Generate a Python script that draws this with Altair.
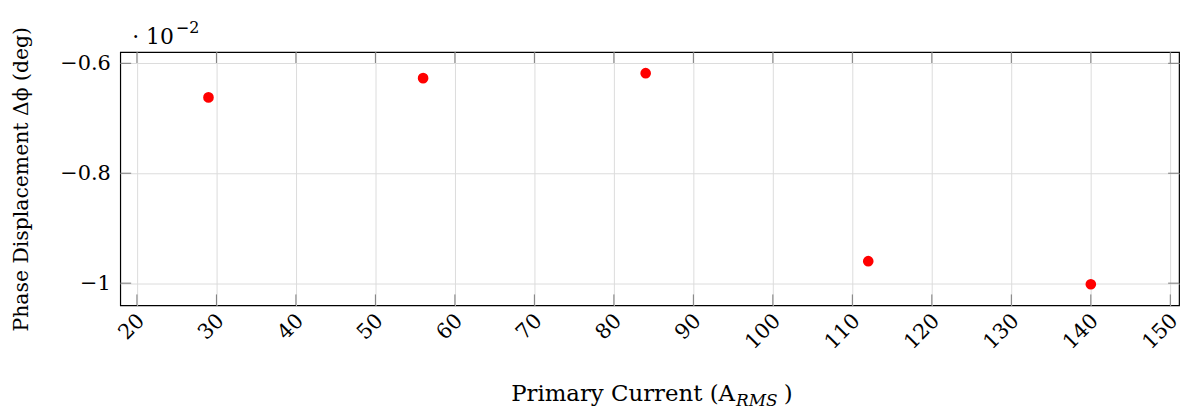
import altair as alt
import pandas as pd

current = [29, 56, 84, 112, 140]
phase = [-0.662, -0.627, -0.618, -0.960, -1.002]
x_ticks = [20, 30, 40, 50, 60, 70, 80, 90, 100, 110, 120, 130, 140, 150]
y_ticks = [-1.0, -0.8, -0.6]

df = pd.DataFrame({"current": current, "phase": phase})
xt = pd.DataFrame({"v": x_ticks})
yt = pd.DataFrame({"v": y_ticks})

FONT = "DejaVu Serif"
W, H = 1066, 255
TL = 11
TICK_COLOR = "#7a7a7a"

xscale = alt.Scale(domain=[17.9, 151.1], nice=False, zero=False)
yscale = alt.Scale(domain=[-1.0404, -0.5796], nice=False, zero=False)

xaxis = alt.Axis(values=x_ticks, labelAngle=-45, labelAlign="right",
                 labelBaseline="middle", labelPadding=12, labelOffset=4,
                 labelFontSize=21, labelFont=FONT, labelColor="black", ticks=False,
                 domain=False, gridColor="#dcdcdc", grid=True, title=None)
yaxis = alt.Axis(values=y_ticks, format="~g", labelFontSize=21,
                 labelFont=FONT, labelColor="black", ticks=False,
                 labelPadding=10, domain=False, gridColor="#dcdcdc",
                 grid=True, title="Phase Displacement Δϕ (deg)",
                 titleFont=FONT, titleFontSize=20.5, titleFontWeight="normal",
                 titleColor="black", titleX=-99, titleY=H / 2,
                 titleAngle=-90, titleAlign="center", titleBaseline="middle")

points = alt.Chart(df).mark_circle(color="#ff0000", opacity=1, size=115).encode(
    x=alt.X("current:Q", scale=xscale, axis=xaxis),
    y=alt.Y("phase:Q", scale=yscale, axis=yaxis),
)

xtick_bottom = alt.Chart(xt).mark_rule(color=TICK_COLOR, strokeWidth=1).encode(
    x=alt.X("v:Q", scale=xscale, axis=xaxis), y=alt.value(H), y2=alt.value(H - TL))
xtick_top = alt.Chart(xt).mark_rule(color=TICK_COLOR, strokeWidth=1).encode(
    x=alt.X("v:Q", scale=xscale, axis=xaxis), y=alt.value(0), y2=alt.value(TL))
ytick_left = alt.Chart(yt).mark_rule(color=TICK_COLOR, strokeWidth=1).encode(
    y=alt.Y("v:Q", scale=yscale, axis=yaxis), x=alt.value(0), x2=alt.value(TL))
ytick_right = alt.Chart(yt).mark_rule(color=TICK_COLOR, strokeWidth=1).encode(
    y=alt.Y("v:Q", scale=yscale, axis=yaxis), x=alt.value(W), x2=alt.value(W - TL))

def txt(s, x, y, size=23, align="left", style="normal"):
    return alt.Chart(pd.DataFrame({"t": [s]})).mark_text(
        text=s, font=FONT, fontSize=size, align=align, baseline="alphabetic",
        color="black", fontStyle=style
    ).encode(x=alt.value(x), y=alt.value(y))

labels = [
    txt("Primary Current (A", 619, 351, align="right"),
    txt("RMS", 620, 356, size=17, style="italic"),
    txt(")", 677, 351, align="right"),
    txt("· 10", 12, -8, size=22),
    txt("−2", 56, -19, size=16),
]

chart = alt.layer(points, xtick_bottom, xtick_top, ytick_left, ytick_right, *labels).properties(
    width=W, height=H,
    padding={"left": 113, "top": 43, "right": 8, "bottom": 110},
    autosize=alt.AutoSizeParams(type="none"),
).configure_view(stroke="black", strokeWidth=1.2)

chart.save("out.html", embed_options={"renderer": "svg", "actions": False})
